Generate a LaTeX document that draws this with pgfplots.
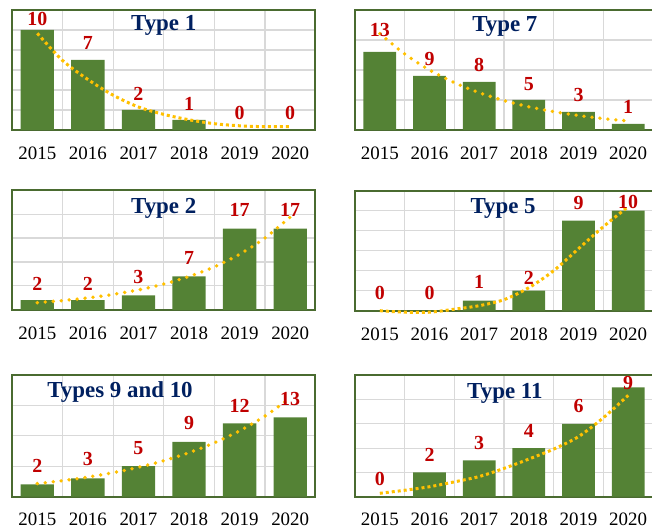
\documentclass[border=0pt]{standalone}
\usepackage{fontspec}
\setmainfont{Liberation Serif}
\usepackage{pgfplots}
\usepackage{pgfplotstable}
\pgfplotsset{compat=1.18}
\definecolor{barg}{HTML}{548235}
\definecolor{framec}{HTML}{4A6B30}
\definecolor{gridc}{HTML}{D9D9D9}
\definecolor{trendc}{HTML}{FFC000}
\definecolor{labc}{HTML}{C00000}
\definecolor{titc}{HTML}{002060}

\pgfplotstableread{
x y ly
1 10 11.1
2 7 8.7
3 2 3.6
4 1 2.6
5 0 1.7
6 0 1.7
}\tA
\pgfplotstableread{
x y ly
1 13 16.6
2 9 11.8
3 8 10.8
4 5 7.7
5 3 5.8
6 1 3.8
}\tB
\pgfplotstableread{
x y ly
1 2 5.5
2 2 5.5
3 3 6.8
4 7 10.8
5 17 20.8
6 17 20.8
}\tC
\pgfplotstableread{
x y ly
1 0 1.73
2 0 1.73
3 1 2.83
4 2 3.27
5 9 10.8
6 10 10.9
}\tD
\pgfplotstableread{
x y ly
1 2 5.1
2 3 6.1
3 5 8.0
4 9 12.1
5 12 14.9
6 13 16.0
}\tE
\pgfplotstableread{
x y ly
1 0 1.46
2 2 3.45
3 3 4.4
4 4 5.4
5 6 7.44
6 9 9.36
}\tF

\tikzset{tit/.style={text=titc, font=\bfseries\fontsize{23}{23}\selectfont}}
\pgfplotsset{
  mini/.style={
    scale only axis, clip=false,
    xmin=0.5, xmax=6.5, ymin=0,
    xtick={1,2,3,4,5,6}, xticklabels={2015,2016,2017,2018,2019,2020},
    minor xtick={1.5,2.5,3.5,4.5,5.5}, xminorgrids,
    ymajorgrids, yticklabels={},
    major tick length=0, minor tick length=0,
    grid style={line width=1.2bp, color=gridc},
    minor grid style={line width=1.2bp, color=gridc},
    axis line style={draw=framec, line width=2bp},
    xticklabel style={font=\fontsize{19}{19}\selectfont, anchor=base, yshift=-30bp},
    /pgf/number format/assume math mode=true,
  },
  bars/.style={ybar, bar width=0.66, fill=barg, draw=none},
  labs/.style={draw=none, nodes near coords, point meta=explicit,
    nodes near coords style={anchor=center, inner sep=0pt, text=labc,
      font=\bfseries\fontsize{20}{20}\selectfont}},
  trsq/.style={smooth, color=trendc, line width=3bp, dash pattern=on 3bp off 3bp},
  trrd/.style={smooth, color=trendc, line width=3.8bp, line cap=round, dash pattern=on 0bp off 8bp},
}

\begin{document}
\begin{tikzpicture}
\useasboundingbox (0,0) rectangle (652bp,529bp);
\clip (0,0) rectangle (652bp,529bp);

% Type 1
\begin{axis}[mini, at={(12bp,519bp)}, anchor=north west, width=303.5bp, height=120bp,
  ymax=12, ytick={0,2,...,12}]
\addplot[bars] table[x=x,y=y] {\tA};
\addplot[trsq] coordinates {(1,9.67) (1.5,6.95) (2,5.05) (2.5,3.48) (3,2.3) (3.5,1.56) (4,1.02) (4.5,0.63) (5,0.42) (5.5,0.33) (6,0.33)};
\addplot[labs] table[x=x,y=ly,meta=y] {\tA};
\node[tit] at (rel axis cs:0.5,0.875) {Type 1};
\end{axis}

% Type 7
\begin{axis}[mini, at={(355bp,519bp)}, anchor=north west, width=298bp, height=120bp,
  ymax=20, ytick={0,5,...,20}]
\addplot[bars] table[x=x,y=y] {\tB};
\addplot[trrd] coordinates {(1,16.06) (1.5,12.67) (2,10.00) (2.5,7.89) (3,6.22) (3.5,4.91) (4,3.87) (4.5,3.06) (5,2.41) (5.5,1.90) (6,1.50)};
\addplot[labs] table[x=x,y=ly,meta=y] {\tB};
\node[tit] at (rel axis cs:0.503,0.86) {Type 7};
\end{axis}

% Type 2
\begin{axis}[mini, at={(12bp,338.7bp)}, anchor=north west, width=303.5bp, height=119.5bp,
  ymax=25, ytick={0,5,...,25}]
\addplot[bars] table[x=x,y=y] {\tC};
\addplot[trrd] coordinates {(1,1.49) (1.5,1.93) (2,2.49) (2.5,3.22) (3,4.16) (3.5,5.38) (4,6.96) (4.5,8.99) (5,11.62) (5.5,15.02) (6,19.41)};
\addplot[labs] table[x=x,y=ly,meta=y] {\tC};
\node[tit] at (rel axis cs:0.5,0.85) {Type 2};
\end{axis}

% Type 5
\begin{axis}[mini, at={(355bp,338.3bp)}, anchor=north west, width=298bp, height=120bp,
  ymax=12, ytick={0,2,...,12}]
\addplot[bars] table[x=x,y=y] {\tD};
\addplot[trsq] coordinates {(1,0.0) (1.5,-0.15) (2,-0.15) (2.5,0.15) (3,0.5) (3.5,1.1) (4,2.3) (4.5,4.0) (5,6.2) (5.5,8.4) (6,10.4)};
\addplot[labs] table[x=x,y=ly,meta=y] {\tD};
\node[tit] at (rel axis cs:0.497,0.85) {Type 5};
\end{axis}

% Types 9 and 10
\begin{axis}[mini, at={(12bp,154.3bp)}, anchor=north west, width=303.5bp, height=122bp,
  ymax=20, ytick={0,5,...,20}, xticklabel style={yshift=1.5bp}]
\addplot[bars] table[x=x,y=y] {\tE};
\addplot[trrd] coordinates {(1,2.15) (1.5,2.63) (2,3.22) (2.5,3.94) (3,4.82) (3.5,5.90) (4,7.22) (4.5,8.83) (5,10.80) (5.5,13.21) (6,16.16)};
\addplot[labs] table[x=x,y=ly,meta=y] {\tE};
\node[tit] at (rel axis cs:0.356,0.86) {Types 9 and 10};
\end{axis}

% Type 11
\begin{axis}[mini, at={(355bp,153.7bp)}, anchor=north west, width=298bp, height=121.4bp,
  ymax=10, ytick={0,2,...,10}, xticklabel style={yshift=1.5bp}]
\addplot[bars] table[x=x,y=y] {\tF};
\addplot[trsq] coordinates {(1,0.28) (1.5,0.53) (2,0.82) (2.5,1.22) (3,1.66) (3.5,2.33) (4,3.1) (4.5,3.92) (5,4.95) (5.5,6.5) (6,8.35)};
\addplot[labs] table[x=x,y=ly,meta=y] {\tF};
\node[tit] at (rel axis cs:0.503,0.85) {Type 11};
\end{axis}
\end{tikzpicture}
\end{document}
